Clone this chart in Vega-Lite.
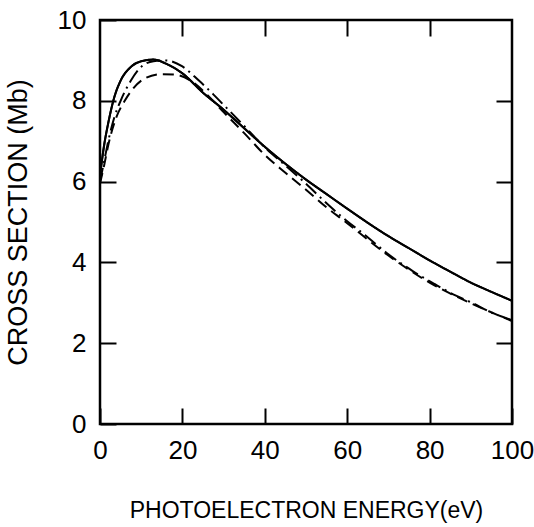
{
  "$schema": "https://vega.github.io/schema/vega-lite/v6.json",
  "width": 412,
  "height": 404,
  "autosize": {"type": "none"},
  "padding": {"left": 100, "top": 20, "right": 22, "bottom": 103},
  "background": "white",
  "config": {
    "view": {"stroke": "black", "strokeWidth": 2.5},
    "font": "Liberation Sans",
    "axis": {
      "domain": false,
      "grid": false,
      "tickColor": "black",
      "tickWidth": 2,
      "tickSize": -16,
      "labelColor": "black",
      "titleColor": "black",
      "labelFont": "Liberation Sans",
      "titleFont": "Liberation Sans",
      "titleFontWeight": "normal"
    }
  },
  "datasets": {
    "curves": [
      {"series": "solid", "energy": 0, "cs": 6.15},
      {"series": "solid", "energy": 1, "cs": 6.9},
      {"series": "solid", "energy": 2, "cs": 7.45},
      {"series": "solid", "energy": 3.5, "cs": 8.1},
      {"series": "solid", "energy": 5, "cs": 8.5},
      {"series": "solid", "energy": 7.5, "cs": 8.84},
      {"series": "solid", "energy": 10, "cs": 8.98},
      {"series": "solid", "energy": 13, "cs": 9.02},
      {"series": "solid", "energy": 16, "cs": 8.92},
      {"series": "solid", "energy": 20, "cs": 8.68},
      {"series": "solid", "energy": 25, "cs": 8.2},
      {"series": "solid", "energy": 30, "cs": 7.78},
      {"series": "solid", "energy": 35, "cs": 7.32},
      {"series": "solid", "energy": 40, "cs": 6.86},
      {"series": "solid", "energy": 45, "cs": 6.44},
      {"series": "solid", "energy": 50, "cs": 6.05},
      {"series": "solid", "energy": 55, "cs": 5.69},
      {"series": "solid", "energy": 60, "cs": 5.33},
      {"series": "solid", "energy": 65, "cs": 4.98},
      {"series": "solid", "energy": 70, "cs": 4.65},
      {"series": "solid", "energy": 75, "cs": 4.35},
      {"series": "solid", "energy": 80, "cs": 4.05},
      {"series": "solid", "energy": 85, "cs": 3.77},
      {"series": "solid", "energy": 90, "cs": 3.5},
      {"series": "solid", "energy": 95, "cs": 3.27},
      {"series": "solid", "energy": 100, "cs": 3.05},

      {"series": "dashdot", "energy": 0, "cs": 6.0},
      {"series": "dashdot", "energy": 1, "cs": 6.5},
      {"series": "dashdot", "energy": 2, "cs": 7.0},
      {"series": "dashdot", "energy": 3.5, "cs": 7.6},
      {"series": "dashdot", "energy": 5, "cs": 8.0},
      {"series": "dashdot", "energy": 7.5, "cs": 8.5},
      {"series": "dashdot", "energy": 10, "cs": 8.84},
      {"series": "dashdot", "energy": 13, "cs": 8.98},
      {"series": "dashdot", "energy": 16, "cs": 9.0},
      {"series": "dashdot", "energy": 20, "cs": 8.85},
      {"series": "dashdot", "energy": 24, "cs": 8.5},
      {"series": "dashdot", "energy": 27.5, "cs": 8.16},
      {"series": "dashdot", "energy": 30, "cs": 7.9},
      {"series": "dashdot", "energy": 34.4, "cs": 7.44},
      {"series": "dashdot", "energy": 40, "cs": 6.85},
      {"series": "dashdot", "energy": 45, "cs": 6.4},
      {"series": "dashdot", "energy": 49, "cs": 6.04},
      {"series": "dashdot", "energy": 56, "cs": 5.37},
      {"series": "dashdot", "energy": 60, "cs": 5.02},
      {"series": "dashdot", "energy": 64.3, "cs": 4.68},
      {"series": "dashdot", "energy": 70, "cs": 4.2},
      {"series": "dashdot", "energy": 76, "cs": 3.78},
      {"series": "dashdot", "energy": 81.3, "cs": 3.46},
      {"series": "dashdot", "energy": 85, "cs": 3.25},
      {"series": "dashdot", "energy": 90.5, "cs": 2.99},
      {"series": "dashdot", "energy": 95, "cs": 2.76},
      {"series": "dashdot", "energy": 100, "cs": 2.57},

      {"series": "dashed", "energy": 0, "cs": 5.95},
      {"series": "dashed", "energy": 1, "cs": 6.4},
      {"series": "dashed", "energy": 2, "cs": 6.9},
      {"series": "dashed", "energy": 4, "cs": 7.6},
      {"series": "dashed", "energy": 6, "cs": 8.0},
      {"series": "dashed", "energy": 8, "cs": 8.3},
      {"series": "dashed", "energy": 11, "cs": 8.56},
      {"series": "dashed", "energy": 15, "cs": 8.66},
      {"series": "dashed", "energy": 18, "cs": 8.65},
      {"series": "dashed", "energy": 22, "cs": 8.5},
      {"series": "dashed", "energy": 26, "cs": 8.15},
      {"series": "dashed", "energy": 30, "cs": 7.72},
      {"series": "dashed", "energy": 35, "cs": 7.2},
      {"series": "dashed", "energy": 40, "cs": 6.66},
      {"series": "dashed", "energy": 45, "cs": 6.22},
      {"series": "dashed", "energy": 50, "cs": 5.8},
      {"series": "dashed", "energy": 55, "cs": 5.36},
      {"series": "dashed", "energy": 60, "cs": 4.97},
      {"series": "dashed", "energy": 70, "cs": 4.17},
      {"series": "dashed", "energy": 80, "cs": 3.5},
      {"series": "dashed", "energy": 90, "cs": 2.99},
      {"series": "dashed", "energy": 100, "cs": 2.55}
    ]
  },
  "data": {"name": "curves"},
  "layer": [
    {
      "mark": {"type": "line", "interpolate": "monotone", "color": "black", "strokeWidth": 2},
      "encoding": {
        "x": {
          "field": "energy", "type": "quantitative",
          "scale": {"domain": [0, 100], "nice": false},
          "axis": {
            "orient": "bottom", "values": [0, 20, 40, 60, 80, 100],
            "title": "PHOTOELECTRON ENERGY(eV)",
            "titleFontSize": 23, "titlePadding": 36,
            "labelFontSize": 26, "labelPadding": 29, "labelFlush": false
          }
        },
        "y": {
          "field": "cs", "type": "quantitative",
          "scale": {"domain": [0, 10], "nice": false},
          "axis": {
            "orient": "left", "values": [0, 2, 4, 6, 8, 10],
            "title": "CROSS SECTION (Mb)",
            "titleFontSize": 27, "titlePadding": 25,
            "labelFontSize": 26, "labelPadding": 30, "labelFlush": false
          }
        },
        "detail": {"field": "series"},
        "strokeDash": {
          "field": "series", "type": "nominal",
          "scale": {"domain": ["solid", "dashed", "dashdot"], "range": [[1, 0], [11, 6], [14, 5, 2, 5]]},
          "legend": null
        }
      }
    },
    {
      "transform": [{"filter": "datum.series === 'solid'"}],
      "mark": {"type": "line", "interpolate": "monotone", "color": "black", "strokeWidth": 2},
      "encoding": {
        "x": {
          "field": "energy", "type": "quantitative",
          "scale": {"domain": [0, 100], "nice": false},
          "axis": {"orient": "top", "values": [20, 40, 60, 80], "labels": false, "title": null}
        },
        "y": {
          "field": "cs", "type": "quantitative",
          "scale": {"domain": [0, 10], "nice": false},
          "axis": {"orient": "right", "values": [2, 4, 6, 8], "labels": false, "title": null}
        }
      }
    }
  ],
  "resolve": {"axis": {"x": "independent", "y": "independent"}}
}
